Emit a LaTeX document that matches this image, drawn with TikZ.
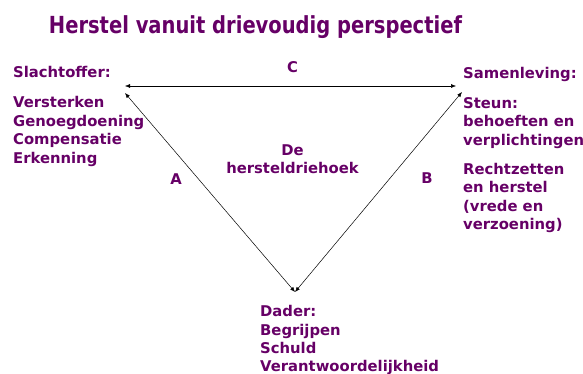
\documentclass[tikz,border=0pt]{standalone}
\usepackage{fontspec}
\usetikzlibrary{arrows.meta}
\setmainfont{DejaVu Sans}
\definecolor{paars}{RGB}{102,0,102}
\tikzstyle{titel}=[font=\bfseries\fontsize{23.5}{28}\selectfont,text=paars,inner sep=0pt,anchor=base]
\tikzstyle{tekst}=[font=\bfseries\fontsize{14.8}{18}\selectfont,text=paars,inner sep=0pt,anchor=base west]
\tikzstyle{letter}=[tekst,anchor=base]
\tikzstyle{pijl}=[{Latex[length=5pt,width=4pt]}-{Latex[length=5pt,width=4pt]},black,line width=0.5pt]

\begin{document}
\begin{tikzpicture}[x=1pt,y=-1pt]
	\useasboundingbox (0,0) rectangle (583,374);
	
	\node[titel] (titel) at (255.5,33.3) {\scalebox{0.83}[1]{Herstel vanuit drievoudig perspectief}};
	
	% hoeken van de driehoek
	\coordinate (slachtofferC) at (125,86);
	\coordinate (slachtofferA) at (125,93);
	\coordinate (samenlevingC) at (456,86);
	\coordinate (samenlevingB) at (462,92);
	\coordinate (dader) at (295,292);
	
	\draw[pijl] (slachtofferC) -- (samenlevingC);
	\draw[pijl] (slachtofferA) -- (dader);
	\draw[pijl] (samenlevingB) -- (dader);
	
	\node[letter] (C) at (292.5,73) {C};
	\node[letter] (A) at (176,185) {A};
	\node[letter] (B) at (427,183) {B};
	\node[letter] (de) at (292.5,156) {De};
	\node[letter] (driehoek) at (292.5,174) {hersteldriehoek};
	
	% slachtoffer
	\node[tekst] (slachtoffer) at (13,77.7) {Slachtoffer:};
	\foreach \regel [count=\i] in {Versterken,Genoegdoening,Compensatie,Erkenning}
		\node[tekst] (slachtoffer\i) at (13,{88.6+18.8*\i}) {\regel};
	
	% samenleving
	\node[tekst] (samenleving) at (463,78.3) {Samenleving:};
	\foreach \regel [count=\i] in {Steun:,behoeften en,verplichtingen}
		\node[tekst] (steun\i) at (463,{89.9+18.4*\i}) {\regel};
	\foreach \regel [count=\i] in {Rechtzetten,en herstel,{(vrede en},{verzoening)}}
		\node[tekst] (herstel\i) at (463,{155.8+18.5*\i}) {\regel};
	
	% dader
	\node[tekst] (daderkop) at (260,316.7) {Dader:};
	\foreach \regel [count=\i] in {Begrijpen,Schuld,Verantwoordelijkheid}
		\node[tekst] (dader\i) at (260,{316.7+18.4*\i}) {\regel};

\end{tikzpicture}
\end{document}
